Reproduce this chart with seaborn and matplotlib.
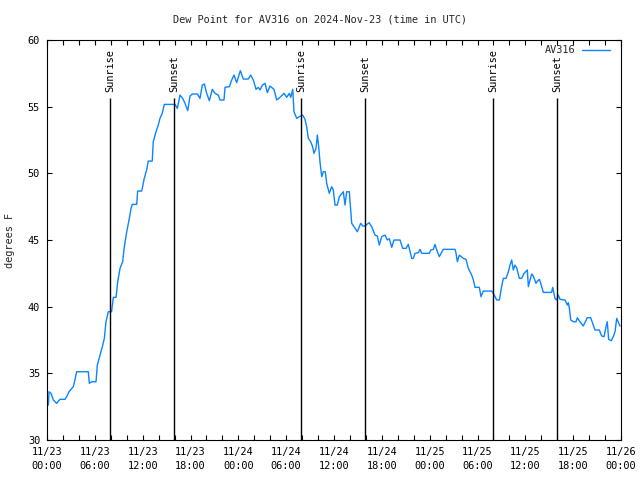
import numpy as np
import pandas as pd
import matplotlib
matplotlib.use("Agg")
import matplotlib.pyplot as plt
import matplotlib.dates as mdates
import seaborn as sns

# ---- data (hours after 2024-11-23 00:00 UTC, dew point in F) ----
hours = [0.17, 0.25, 0.5, 0.8, 1.2, 1.63, 2.26, 2.47, 2.76, 3.3, 3.5, 3.72, 5.18, 5.31, 5.6, 6.15,
         6.31, 6.65, 6.94, 7.19, 7.4, 7.69, 8.1, 8.32, 8.66, 8.87, 9.16, 9.49, 9.7, 10.0, 10.29,
         10.54, 10.7, 11.25, 11.37, 11.88, 12.2, 12.5, 12.7, 13.2, 13.33, 13.67, 13.96, 14.17,
         14.46, 14.71, 16.06,
         16.35, 16.68, 17.02, 17.31, 17.65, 17.94, 18.23, 18.86, 19.19, 19.48, 19.74, 20.03, 20.36,
         20.74, 21.07, 21.49, 21.7, 22.2, 22.33, 22.87, 23.17, 23.46, 23.79, 24.25, 24.63, 25.25,
         25.55, 25.88, 26.22, 26.51, 26.72, 27.01, 27.35, 27.64, 27.97, 28.47, 28.81, 29.23, 29.73,
         30.07, 30.39, 30.57, 30.82, 30.98, 31.32, 31.65, 32.07,
         32.36, 32.57, 32.78, 33.07, 33.32, 33.49, 33.74, 33.91, 34.08, 34.24, 34.46, 34.66, 34.91,
         35.08, 35.41, 35.71, 35.91, 36.13, 36.41, 36.67, 37.17, 37.38, 37.59, 37.92, 38.22, 38.51,
         38.93, 39.35, 39.6, 39.89, 40.39, 40.73, 41.14, 41.43, 41.68, 41.98, 42.4, 42.69, 42.94,
         43.24,
         43.53, 44.28, 44.62, 45.03, 45.32, 45.75, 45.95, 46.16, 46.58, 46.79, 47.0, 47.96, 48.13,
         48.46, 48.67, 48.96, 49.21, 49.71, 51.18, 51.31, 51.47, 51.72, 52.22, 52.56, 52.85, 53.27,
         53.48, 53.69, 54.23, 54.44, 54.73, 55.78, 55.98, 56.41, 56.74,
         57.03, 57.24, 57.58, 57.87, 58.08, 58.29, 58.49, 58.7, 58.92, 59.25, 59.54, 59.84, 60.25,
         60.38, 60.59, 60.8, 61.0, 61.34, 61.5, 61.76, 61.93, 62.26, 63.3, 63.43, 63.72, 63.93,
         64.13, 64.35, 64.98, 65.27, 65.39, 65.52, 65.69, 66.02, 66.36, 66.52, 66.86, 67.27, 67.77,
         68.2, 68.74, 69.28, 69.58, 69.87, 70.12, 70.28, 70.45, 70.78, 71.03, 71.25, 71.46, 71.66,
         71.87]

dewpoint = [32.62, 33.62, 33.5, 33.0, 32.75, 33.05, 33.05, 33.25, 33.62, 34.0, 34.5, 35.12, 35.12,
            34.25, 34.37, 34.37, 35.62, 36.37, 37.0, 37.62, 38.87, 39.62, 39.62, 40.7, 40.7, 41.87,
            42.87, 43.37, 44.5, 45.62, 46.5, 47.37, 47.67, 47.67, 48.67, 48.67, 49.62, 50.25, 50.92,
            50.92, 52.37, 53.12, 53.62, 54.12, 54.5, 55.17, 55.17,
            54.87, 55.87, 55.62, 55.25, 54.7, 55.8, 55.95, 55.95, 55.62, 56.62, 56.7, 56.0, 55.45,
            56.3, 56.0, 55.87, 55.5, 55.5, 56.45, 56.5, 57.0, 57.37, 56.8, 57.7, 57.07, 57.07, 57.37,
            57.0, 56.3, 56.45, 56.25, 56.62, 56.75, 56.05, 56.55, 56.3, 55.5, 55.7, 56.0, 55.7, 56.0,
            55.7, 56.3, 54.62, 54.12, 54.25, 54.37,
            54.05, 53.5, 52.62, 52.37, 52.0, 51.5, 51.87, 52.87, 52.0, 50.87, 49.75, 50.12, 50.12,
            49.25, 48.5, 49.0, 48.75, 47.62, 47.62, 48.25, 48.62, 47.62, 48.62, 48.62, 46.25, 46.0,
            45.62, 46.25, 46.05, 46.05, 46.3, 46.0, 45.37, 45.3, 44.62, 45.25, 45.37, 45.0, 45.1,
            44.45,
            45.0, 45.0, 44.37, 44.37, 44.67, 43.62, 43.62, 44.0, 44.05, 44.3, 44.0, 44.0, 44.25, 44.3,
            44.67, 44.12, 43.75, 44.3, 44.3, 44.0, 43.37, 43.87, 43.62, 43.55, 42.87, 42.37, 42.0,
            41.45, 41.45, 40.75, 41.17, 41.17, 41.0, 40.5, 40.5,
            41.5, 42.12, 42.12, 42.62, 43.12, 43.5, 42.75, 43.12, 42.9, 42.12, 42.12, 42.5, 42.75,
            41.5, 42.0, 42.45, 42.3, 41.75, 41.9, 42.05, 41.75, 41.07, 41.07, 41.45, 40.62, 40.5,
            40.87, 40.55, 40.5, 40.12, 40.3, 39.9, 39.0, 38.87, 38.87, 39.17, 38.87, 38.55, 39.17,
            39.17, 38.25, 38.25, 37.8, 37.75, 38.5, 38.87, 37.55, 37.45, 37.75, 38.12, 39.12, 38.85,
            38.55]

sun_times = ["2024-11-23 07:56", "2024-11-23 15:58", "2024-11-24 07:54",
             "2024-11-24 15:56", "2024-11-25 07:59", "2024-11-25 16:01"]
sun_labels = ["Sunrise", "Sunset", "Sunrise", "Sunset", "Sunrise", "Sunset"]

series_name = "AV316"
title = "Dew Point for AV316 on 2024-Nov-23 (time in UTC)"
ylabel = "degrees F"

start = pd.Timestamp("2024-11-23 00:00")
df = pd.DataFrame({"time": start + pd.to_timedelta(hours, unit="h"),
                   "dewpoint": dewpoint})

sns.set_style("ticks")
plt.rcParams["font.family"] = ["DejaVu Sans Mono"]
FS = 7.4

fig = plt.figure(figsize=(6.4, 4.8), dpi=100)
ax = fig.add_axes([47 / 640, 40 / 480, 574 / 640, 400 / 480])

sns.lineplot(data=df, x="time", y="dewpoint", ax=ax, color="#0a84ff",
             linewidth=1.0, label=series_name)

ax.set_xlim(start, start + pd.Timedelta(hours=72))
ax.set_ylim(30, 60)
ax.set_yticks(np.arange(30, 61, 5))
ax.xaxis.set_major_locator(mdates.HourLocator(byhour=[0, 6, 12, 18]))
ax.xaxis.set_major_formatter(mdates.DateFormatter("%m/%d\n%H:%M"))
ax.xaxis.set_minor_locator(mdates.HourLocator(interval=2))
ax.tick_params(which="both", direction="in", top=True, right=True,
               length=3.6, width=0.8, color="black", labelsize=FS, labelcolor="black")
ax.tick_params(axis="x", pad=5)
ax.tick_params(axis="y", pad=5)
for sp in ax.spines.values():
    sp.set_color("black")
    sp.set_linewidth(0.8)
ax.set_xlabel("")
ax.set_ylabel("")

# sunrise / sunset markers
sun_ts = pd.to_datetime(sun_times)
ax.vlines(sun_ts, 30, 55.65, color="black", linewidth=1.0)
for t, lab in zip(sun_ts, sun_labels):
    ax.text(t, 56.1, lab, rotation=90, ha="center", va="bottom",
            fontsize=FS, color="black")

leg = ax.legend(loc="upper right", frameon=False, markerfirst=False,
                bbox_to_anchor=(1 - 7 / 574, 1 - 1 / 400), borderaxespad=0,
                handlelength=2.7, fontsize=FS, handletextpad=0.7)

fig.text(320 / 640, 1 - 19 / 480, title, ha="center", va="center", fontsize=FS)
fig.text(10 / 640, 240 / 480, ylabel, ha="center", va="center", rotation=90, fontsize=FS)

fig.canvas.draw()
for lab in ax.get_xticklabels():
    lab.set_linespacing(1.55)

fig.savefig("out.png", dpi=100)
